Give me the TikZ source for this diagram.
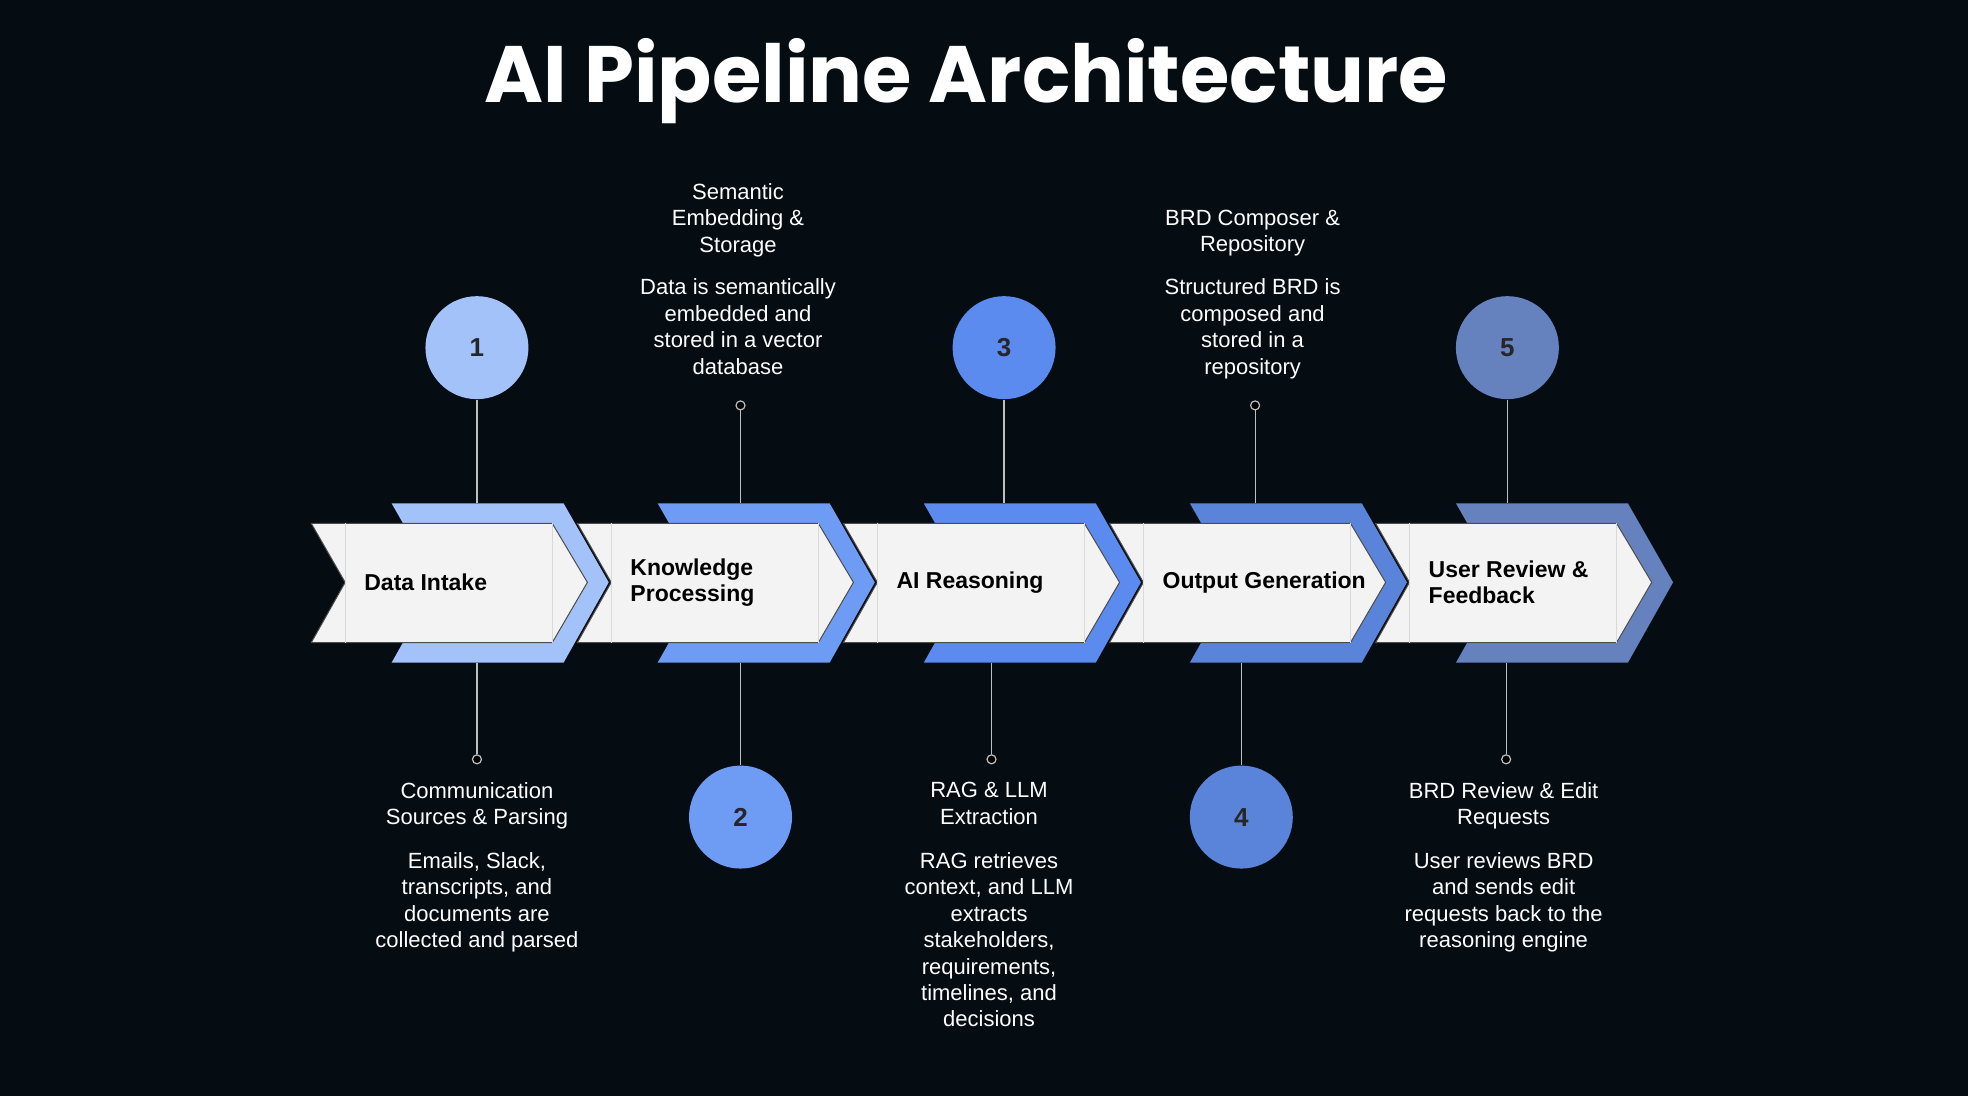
\documentclass[tikz,border=0pt]{standalone}
\usepackage{fontspec}
\setmainfont{Liberation Sans}
\newfontfamily\titlefont{Poppins}
\begin{document}
\begin{tikzpicture}[x=0.6276pt,y=-0.6276pt,
  txt/.style={text=white,font=\fontsize{11}{13.2}\selectfont,align=center,inner sep=0pt,anchor=north},
  lab/.style={text=black,font=\fontsize{11.5}{13.2}\selectfont\bfseries,align=left,inner sep=0pt,anchor=west},
  num/.style={circle,minimum size=51.5pt,inner sep=0pt,font=\fontsize{13}{15}\selectfont\bfseries,text=black!85},
  ln/.style={draw=white!75!black,line width=0.6pt},
  dot/.style={circle,draw=white!75!black,fill=black,line width=0.6pt,minimum size=4.5pt,inner sep=0pt}]
\definecolor{bg}{HTML}{050C12}
\definecolor{cA}{HTML}{A4C2FA}
\definecolor{cB}{HTML}{6E9CF5}
\definecolor{cC}{HTML}{5B8BEE}
\definecolor{cD}{HTML}{5A84DA}
\definecolor{cE}{HTML}{6682BE}
\definecolor{wh}{HTML}{F3F3F3}
\fill[bg] (0,0) rectangle (1568,873);
\useasboundingbox (0,0) rectangle (1568,873);
\node[text=white,font=\titlefont\fontsize{40}{44}\selectfont\bfseries] (title) at (770,65) {AI Pipeline Architecture};
% chevrons drawn right to left
\foreach \i/\c in {4/cE,3/cD,2/cC,1/cB,0/cA}{
  \pgfmathsetmacro{\d}{212*\i}
  \fill[\c] (312+\d,401) -- (449+\d,401) -- (485+\d,464) -- (449+\d,528) -- (312+\d,528) -- (348+\d,464) -- cycle;
  \filldraw[fill=wh,draw=black!70,line width=0.5pt] (248+\d,417) -- (440+\d,417) -- (468+\d,464) -- (440+\d,512) -- (248+\d,512) -- (275+\d,464) -- cycle;
  \draw[black!15,line width=0.4pt] (275+\d,417) -- (275+\d,512) (440+\d,417) -- (440+\d,512);
}
\node[lab] (l1) at (290,464) {Data Intake};
\node[lab] (l2) at (502,464) {Knowledge\\Processing};
\node[lab] (l3) at (714,464) {AI Reasoning};
\node[lab] (l4) at (926,464) {Output Generation};
\node[lab] (l5) at (1138,464) {User Review \&\\Feedback};
% circles
\node[num,fill=cA] (n1) at (380,277) {1};
\node[num,fill=cB] (n2) at (590,651) {2};
\node[num,fill=cC] (n3) at (800,277) {3};
\node[num,fill=cD] (n4) at (989,651) {4};
\node[num,fill=cE] (n5) at (1201,277) {5};
\coordinate (t1) at (380,401); \coordinate (b1) at (380,528);
\node[dot] (d1) at (380,605) {};
\draw[ln] (n1) -- (t1); \draw[ln] (b1) -- (d1);
\node[dot] (d2) at (590,323) {};
\coordinate (t2) at (590,401); \coordinate (b2) at (590,528);
\draw[ln] (d2) -- (t2); \draw[ln] (b2) -- (n2);
\coordinate (t3) at (800,401); \coordinate (b3) at (790,528);
\node[dot] (d3) at (790,605) {};
\draw[ln] (n3) -- (t3); \draw[ln] (b3) -- (d3);
\node[dot] (d4) at (1000,323) {};
\coordinate (t4) at (1000,401); \coordinate (b4) at (989,528);
\draw[ln] (d4) -- (t4); \draw[ln] (b4) -- (n4);
\coordinate (t5) at (1201,401); \coordinate (b5) at (1200,528);
\node[dot] (d5) at (1200,605) {};
\draw[ln] (n5) -- (t5); \draw[ln] (b5) -- (d5);
% texts
\node[txt] (s2h) at (588,146) {Semantic\\Embedding \&\\Storage};
\node[txt] (s2d) at (588,222) {Data is semantically\\embedded and\\stored in a vector\\database};
\node[txt] (s4h) at (998,167) {BRD Composer \&\\Repository};
\node[txt] (s4d) at (998,222) {Structured BRD is\\composed and\\stored in a\\repository};
\node[txt] (s1h) at (380,623) {Communication\\Sources \& Parsing};
\node[txt] (s1d) at (380,679) {Emails, Slack,\\transcripts, and\\documents are\\collected and parsed};
\node[txt] (s3h) at (788,623) {RAG \& LLM\\Extraction};
\node[txt] (s3d) at (788,679) {RAG retrieves\\context, and LLM\\extracts\\stakeholders,\\requirements,\\timelines, and\\decisions};
\node[txt] (s5h) at (1198,623) {BRD Review \& Edit\\Requests};
\node[txt] (s5d) at (1198,679) {User reviews BRD\\and sends edit\\requests back to the\\reasoning engine};
\end{tikzpicture}
\end{document}
